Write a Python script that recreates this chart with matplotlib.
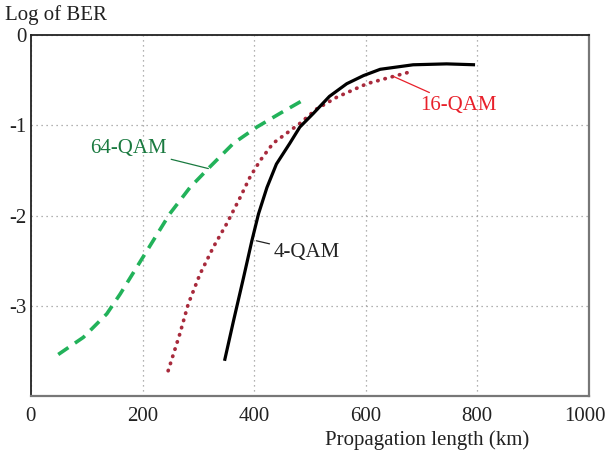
import matplotlib
matplotlib.use("Agg")
import matplotlib.pyplot as plt
import matplotlib.transforms as mtransforms

# Data
qam4_x = [347, 363, 381, 396, 408, 423, 440, 464, 482, 506, 535, 566, 596, 626, 685, 745, 796]
qam4_y = [-3.61, -3.17, -2.69, -2.28, -1.98, -1.69, -1.43, -1.20, -1.02, -0.87, -0.68, -0.54,
          -0.45, -0.38, -0.33, -0.32, -0.33]

qam16_x = [246, 267, 282, 303, 327, 351, 375, 393, 411, 434, 458, 482, 512, 548, 584, 602, 643, 685]
qam16_y = [-3.72, -3.31, -2.98, -2.65, -2.35, -2.09, -1.80, -1.57, -1.39, -1.20, -1.09, -0.98,
           -0.82, -0.69, -0.59, -0.54, -0.47, -0.40]

qam64_x = [49, 94, 136, 160, 190, 219, 249, 285, 321, 363, 405, 446, 494]
qam64_y = [-3.54, -3.35, -3.09, -2.87, -2.57, -2.28, -1.98, -1.69, -1.46, -1.20, -1.02, -0.87, -0.70]

xticks = [0, 200, 400, 600, 800, 1000]
xtick_labels = ["0", "200", "400", "600", "800", "1000"]
yticks = [0, -1, -2, -3]
ytick_labels = ["0", "-1", "-2", "-3"]

plt.rcParams['font.family'] = ['Liberation Serif', 'DejaVu Serif']

fig = plt.figure(figsize=(6.07, 4.57), dpi=100)
ax = fig.add_axes([30.9/607, 1-396/457, (588.9-30.9)/607, (396-35)/457])

ax.plot(qam64_x, qam64_y, color='#22b25a', lw=2.6, linestyle=(0, (3.4, 2.2)))
ax.plot(qam16_x, qam16_y, color='#a82a3c', lw=2.7, linestyle=(0, (0.1, 1.9)),
        dash_capstyle='round')
ax.plot(qam4_x, qam4_y, color='black', lw=2.3, solid_capstyle='butt')

ax.set_xlim(0, 1000)
ax.set_ylim(-4, 0)
ax.set_xticks(xticks)
ax.set_xticklabels(xtick_labels)
ax.set_yticks(yticks)
ax.set_yticklabels(ytick_labels)
ax.tick_params(axis='both', length=0, labelsize=15, colors='#222222')
ax.tick_params(axis='x', pad=8)
ax.tick_params(axis='y', pad=3)

# nudge the last x label left so it stays inside the figure
last = ax.get_xticklabels()[-1]
last.set_transform(last.get_transform() + mtransforms.ScaledTranslation(-4/100, 0, fig.dpi_scale_trans))

ax.grid(True, color='#999999', linestyle=(0, (1, 3)), lw=0.9)

for s in ['left', 'top']:
    ax.spines[s].set_color('#222222')
    ax.spines[s].set_linewidth(1.3)
for s in ['right', 'bottom']:
    ax.spines[s].set_color('#777777')
    ax.spines[s].set_linewidth(1.6)

# annotations
ax.annotate('64-QAM', xy=(318, -1.48), xytext=(244, -1.26), color='#1a7a40', fontsize=15,
            ha='right', va='center',
            arrowprops=dict(arrowstyle='-', color='#1a7a40', lw=0.9, shrinkA=1, shrinkB=0))
ax.annotate('4-QAM', xy=(404, -2.28), xytext=(435, -2.41), color='#222222', fontsize=15,
            ha='left', va='center',
            arrowprops=dict(arrowstyle='-', color='#222222', lw=0.9, shrinkA=1, shrinkB=0))
ax.annotate('16-QAM', xy=(650, -0.46), xytext=(697, -0.78), color='#e8202a', fontsize=15,
            ha='left', va='center',
            arrowprops=dict(arrowstyle='-', color='#e8202a', lw=0.9, shrinkA=1, shrinkB=0))

fig.text(5/607, 1-15/457, 'Log of BER', fontsize=15, ha='left', va='center', color='#222222')
fig.text(427/607, 1-440/457, 'Propagation length (km)', fontsize=15, ha='center', va='center',
         color='#222222')

fig.savefig('out.png', dpi=100)
